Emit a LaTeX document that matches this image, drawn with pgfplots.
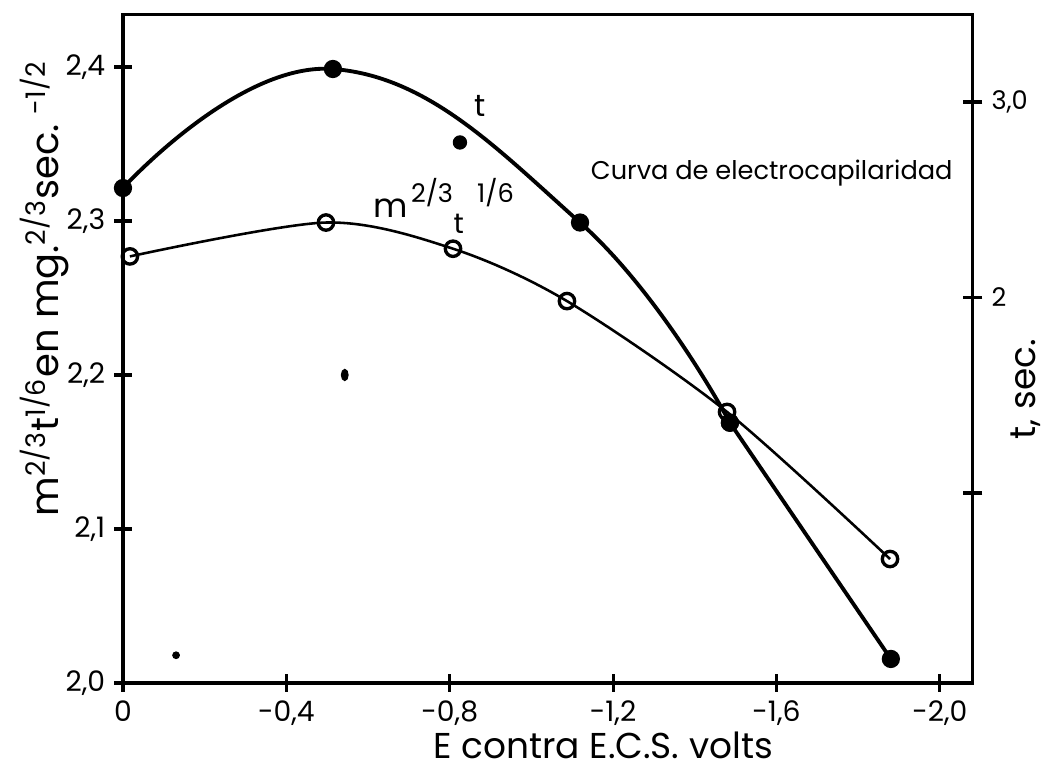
\documentclass[border=0pt]{standalone}
\usepackage{fontspec}
\setmainfont{Poppins}
\usepackage{pgfplots}
\pgfplotsset{compat=1.18}

\begin{document}
\begin{tikzpicture}
\path[use as bounding box] (-1.685cm,-1.329cm) rectangle (12.673cm,9.357cm);
% main axis: m^{2/3} t^{1/6}
\begin{axis}[
  width=11.645cm, height=9.152cm, scale only axis,
  at={(0,0)}, anchor=south west,
  clip=false,
  x dir=reverse,
  xmin=-2.081, xmax=0, ymin=2.0, ymax=2.4338,
  axis line style={line width=1.2pt},
  xtick={0,-0.4,-0.8,-1.2,-1.6,-2.0},
  xticklabels={0,{-0,4},{-0,8},{-1,2},{-1,6},{-2,0}},
  ytick={2.0,2.1,2.2,2.3,2.4},
  yticklabels={{2,0},{2,1},{2,2},{2,3},{2,4}},
  xtick pos=left, ytick pos=left,
  tick align=center,
  major tick length=0.24cm,
  every tick/.append style={line width=1.2pt, black},
  tick label style={font=\fontsize{11}{13}\selectfont},
  xlabel={E contra E.C.S. volts},
  xlabel style={at={(axis description cs:0.565,-0.0928)}, anchor=center, font=\fontsize{14}{16}\selectfont},
  ylabel={m\textsuperscript{2/3}t\textsuperscript{1/6}en mg.\textsuperscript{2/3}sec.\ \textsuperscript{-1/2}},
  ylabel style={at={(axis description cs:-0.092,0.59)}, anchor=center, font=\fontsize{15}{17}\selectfont},
]
% electrocapillary curve (t): smooth top, straight fall
\addplot[black, line width=1.5pt, smooth, tension=0.75, mark=*, mark size=2.8pt]
  coordinates {(0,2.3214) (-0.514,2.3987) (-1.119,2.299) (-1.486,2.169)};
\addplot[black, line width=1.5pt, mark=*, mark size=2.8pt]
  coordinates {(-1.486,2.169) (-1.88,2.0156)};
% m^{2/3} t^{1/6}
\addplot[black, line width=1pt, smooth, tension=0.5, mark=o, mark size=3pt,
  mark options={fill=white, line width=1.3pt}]
  coordinates {(-0.017,2.277) (-0.497,2.299) (-0.808,2.282) (-1.087,2.248) (-1.479,2.176) (-1.878,2.0805)};
% stray blots of the scan
\addplot[only marks, black, mark=*, mark size=2.6pt] coordinates {(-0.825,2.351)};
\addplot[only marks, black, mark=*, mark size=2.2pt, mark options={xscale=0.6}] coordinates {(-0.543,2.2)};
\addplot[only marks, black, mark=*, mark size=1.3pt] coordinates {(-0.13,2.018)};

\node[anchor=west, font=\fontsize{10}{12}\selectfont] at (axis cs:-1.1236,2.331) {Curva de electrocapilaridad};
\node[anchor=base, font=\fontsize{13}{15}\selectfont] at (axis cs:-0.656,2.302) {m};
\node[anchor=base west, font=\fontsize{10}{12}\selectfont] at (axis cs:-0.683,2.3117) {2/3};
\node[anchor=base, inner sep=0pt, font=\fontsize{11}{13}\selectfont] at (axis cs:-0.822,2.2922) {t};
\node[anchor=base west, font=\fontsize{10}{12}\selectfont] at (axis cs:-0.845,2.3117) {1/6};
\node[anchor=base, font=\fontsize{12}{14}\selectfont] at (axis cs:-0.874,2.368) {t};
\end{axis}
% right axis: t, sec.
\begin{axis}[
  width=11.645cm, height=9.152cm, scale only axis,
  at={(0,0)}, anchor=south west,
  x dir=reverse,
  xmin=-2.081, xmax=0, ymin=0.028, ymax=3.445,
  hide x axis,
  axis y line*=right,
  axis line style={line width=1.2pt},
  ytick={1,2,3},
  yticklabels={{},2,{3,0}},
  tick align=center,
  major tick length=0.26cm,
  every tick/.append style={line width=1.3pt, black},
  tick label style={font=\fontsize{10}{12}\selectfont},
  ylabel={t, sec.},
  ylabel style={at={(axis description cs:1.0624,0.44)}, anchor=center, rotate=0, font=\fontsize{14}{16}\selectfont},
]
\addplot[draw=none] coordinates {(0,1) (-2,2)};
\end{axis}
\end{tikzpicture}
\end{document}
